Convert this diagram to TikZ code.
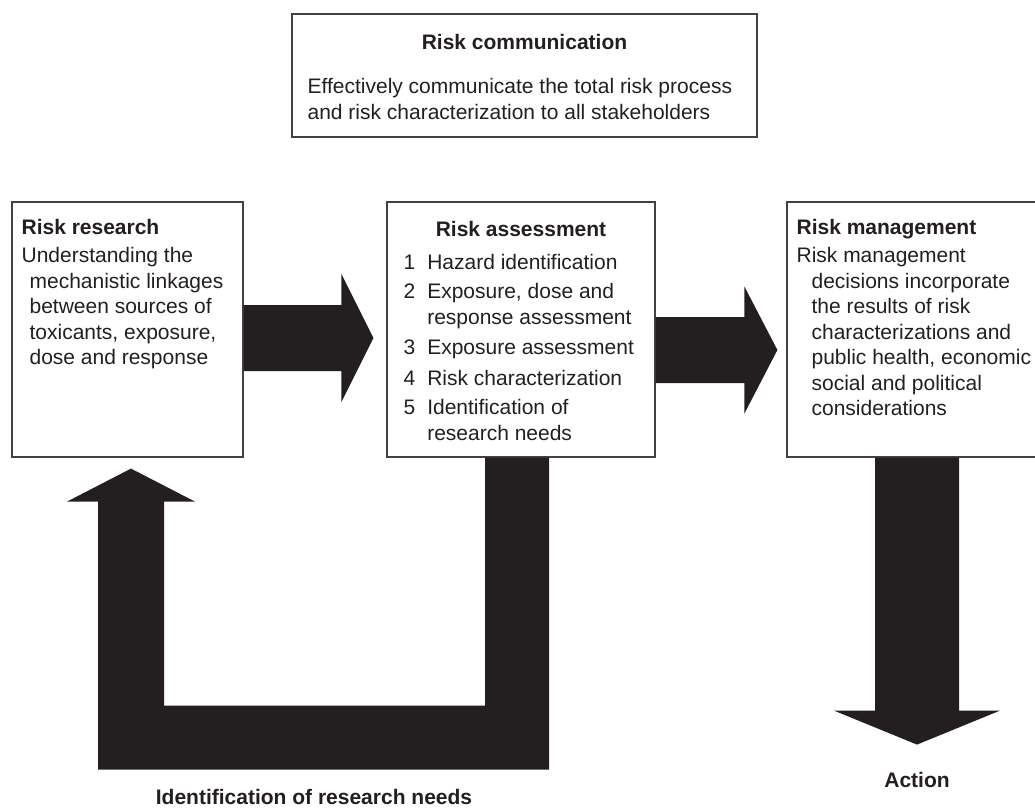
\documentclass[tikz,border=0pt]{standalone}
\usepackage{fontspec}
\setmainfont{Liberation Sans}
\usetikzlibrary{calc}
\definecolor{ink}{HTML}{231F20}

\begin{document}
\begin{tikzpicture}[x=1pt,y=-1pt,
    box/.style={draw=ink!85,line width=1.2pt,inner sep=0pt},
    txt/.style={inner sep=0pt,align=left,text=ink,font=\fontsize{21}{25.5}\selectfont},
    lbl/.style={inner sep=0pt,text=ink,font=\fontsize{21}{25.5}\selectfont\bfseries},
    fat/.style={fill=ink}]
  \useasboundingbox (0,0) rectangle (1035,810);
  % boxes
  \node[box,minimum width=465,minimum height=123] (comm) at (524.5,75.5) {};
  \node[box,minimum width=231,minimum height=255] (res) at (127.5,329.5) {};
  \node[box,minimum width=268,minimum height=255] (assess) at (521,329.5) {};
  \node[box,minimum width=260,minimum height=255] (mgmt) at (917,329.5) {};
  % texts
  \node[lbl,anchor=north] (commtitle) at ($(comm.north)+(0,21)$) {Risk communication};
  \node[txt,anchor=north west] (commtxt) at ($(comm.north west)+(16,65)$)
    {Effectively communicate the total risk process\\and risk characterization to all stakeholders};
  \node[txt,anchor=north west] (restxt) at ($(res.north west)+(10,15)$)
    {\begin{tabular}{@{}l@{}}
     \textbf{Risk research}\\[3pt]
     Understanding the\\
     \hspace*{8pt}mechanistic linkages\\
     \hspace*{8pt}between sources of\\
     \hspace*{8pt}toxicants, exposure,\\
     \hspace*{8pt}dose and response
     \end{tabular}};
  \node[lbl,anchor=north] (assesstitle) at ($(assess.north)+(0,20)$) {Risk assessment};
  \node[txt,anchor=north west] (assesslist) at ($(assess.north west)+(17,50)$)
    {\begin{tabular}{@{}l@{\hspace{12pt}}l@{}}
     1 & Hazard identification\\[4pt]
     2 & Exposure, dose and\\
       & response assessment\\[5pt]
     3 & Exposure assessment\\[5pt]
     4 & Risk characterization\\[4pt]
     5 & Identification of\\
       & research needs
     \end{tabular}};
  \node[txt,anchor=north west] (mgmttxt) at ($(mgmt.north west)+(10,15)$)
    {\begin{tabular}{@{}l@{}}
     \textbf{Risk management}\\[3pt]
     Risk management\\
     \hspace*{15pt}decisions incorporate\\
     \hspace*{15pt}the results of risk\\
     \hspace*{15pt}characterizations and\\
     \hspace*{15pt}public health, economic\\
     \hspace*{15pt}social and political\\
     \hspace*{15pt}considerations
     \end{tabular}};
  % arrows
  \coordinate (a1) at ($(res.east)+(0,8.5)$);
  \coordinate (t1) at ($(assess.west |- a1)+(-13,0)$);
  \fill[fat] ($(a1)+(0,-33)$) -- ($(t1)+(-32,-33)$) -- ($(t1)+(-32,-64)$) -- (t1)
    -- ($(t1)+(-32,64)$) -- ($(t1)+(-32,33)$) -- ($(a1)+(0,33)$) -- cycle;
  \coordinate (a2) at ($(assess.east)+(0,20.5)$);
  \coordinate (t2) at ($(mgmt.west |- a2)+(-9,0)$);
  \fill[fat] ($(a2)+(0,-33)$) -- ($(t2)+(-33,-33)$) -- ($(t2)+(-33,-63.5)$) -- (t2)
    -- ($(t2)+(-33,63.5)$) -- ($(t2)+(-33,33)$) -- ($(a2)+(0,33)$) -- cycle;
  \coordinate (t3) at ($(mgmt.south)+(0,287)$);
  \fill[fat] ($(mgmt.south)+(-42,0)$) -- ($(t3)+(-42,-34)$) -- ($(t3)+(-83,-34)$) -- (t3)
    -- ($(t3)+(83,-34)$) -- ($(t3)+(42,-34)$) -- ($(mgmt.south)+(42,0)$) -- cycle;
  \coordinate (u1) at ($(assess.south)+(-4,0)$);
  \coordinate (t4) at ($(res.south)+(3.5,11)$);
  \fill[fat] ($(u1)+(-32,0)$) -- ($(u1)+(-32,248)$) -- ($(t4)+(33,237)$) -- ($(t4)+(33,33)$)
    -- ($(t4)+(64,33)$) -- (t4) -- ($(t4)+(-64,33)$) -- ($(t4)+(-33,33)$)
    -- ($(t4)+(-33,301)$) -- ($(u1)+(32,312)$) -- ($(u1)+(32,0)$) -- cycle;
  % labels
  \node[lbl] (action) at ($(t3)+(0,35)$) {Action};
  \node[lbl] (needs) at (314,797) {Identification of research needs};
\end{tikzpicture}
\end{document}
